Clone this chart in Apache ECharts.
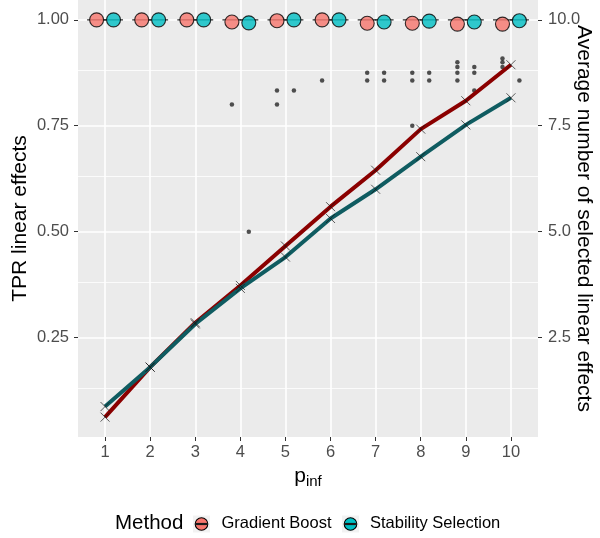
<!DOCTYPE html>
<html>
<head>
<meta charset="utf-8">
<script src="https://cdn.jsdelivr.net/npm/echarts@6/dist/echarts.min.js"></script>
<style>html,body{margin:0;padding:0;background:#fff}#c{width:600px;height:538px}</style>
</head>
<body>
<div id="c"></div>
<script>
// ---- data ----
const pinf = [1, 2, 3, 4, 5, 6, 7, 8, 9, 10];
// mean TPR (circles)
const tprGB = [1.0, 1.0, 1.0, 0.995, 0.998, 1.0, 0.992, 0.992, 0.99, 0.99];
const tprSS = [1.0, 1.0, 1.0, 0.993, 1.0, 1.0, 0.995, 0.997, 0.995, 0.998];
// boxplot median (collapsed boxes)
const medGB = [1, 1, 1, 1, 1, 1, 1, 1, 1, 1];
const medSS = [1, 1, 1, 1, 1, 1, 1, 1, 1, 1];
// boxplot outliers [p_inf, TPR]
const outGB = [[4, 0.8], [5, 0.833], [5, 0.8], [6, 0.857], [7, 0.875], [7, 0.857],
  [8, 0.875], [8, 0.857], [8, 0.75], [9, 0.9], [9, 0.889], [9, 0.875], [9, 0.857],
  [10, 0.909], [10, 0.9], [10, 0.889]];
const outSS = [[4, 0.5], [5, 0.833], [7, 0.875], [7, 0.857], [8, 0.875], [8, 0.857],
  [9, 0.889], [9, 0.875], [9, 0.833], [10, 0.857]];
// average number of selected linear effects (right axis)
const avgGB = [0.62, 1.80, 2.85, 3.73, 4.66, 5.59, 6.45, 7.42, 8.09, 8.94];
const avgSS = [0.87, 1.80, 2.82, 3.66, 4.40, 5.31, 6.00, 6.77, 7.52, 8.16];
// tick labels
const leftTicks = [0.25, 0.5, 0.75, 1.0];
const leftMinor = [0.125, 0.375, 0.625, 0.875];
const rightTicks = [2.5, 5.0, 7.5, 10.0];
const methods = ['Gradient Boost', 'Stability Selection'];

const FONT = '"Liberation Sans", Arial, Helvetica, sans-serif';
const dodge = 0.1875;
const cRed = '#F8766D', cTeal = '#00BFC4';
const lRed = '#8B0000', lTeal = '#0F5C61';

const chart = echarts.init(document.getElementById('c'), null, {renderer: 'canvas'});

const xSymbol = 'path://M0,0L10,10M10,0L0,10';

const option = {
  animation: false,
  textStyle: {fontFamily: FONT},
  grid: {left: 78, top: 0, width: 460, height: 437, show: true, z: 0,
    backgroundColor: '#EBEBEB', borderWidth: 0, containLabel: false, outerBoundsMode: 'none'},
  xAxis: {
    type: 'value', min: 0.4, max: 10.6,
    name: '{p|p}{s|inf}', nameLocation: 'middle', nameGap: 23,
    nameTextStyle: {rich: {
      p: {fontSize: 21, lineHeight: 20, verticalAlign: 'top', color: '#000', fontFamily: FONT},
      s: {fontSize: 15, lineHeight: 23, verticalAlign: 'bottom', color: '#000', fontFamily: FONT}
    }},
    axisLine: {show: false},
    axisTick: {show: true, length: 4, lineStyle: {color: '#333', width: 1}, customValues: pinf},
    axisLabel: {customValues: pinf, color: '#4D4D4D', fontSize: 16.5, margin: 7, fontFamily: FONT},
    splitLine: {show: false}
  },
  yAxis: [{
    type: 'value', min: 0.0151, max: 1.0469, position: 'left',
    name: 'TPR linear effects', nameLocation: 'middle', nameRotate: 90, nameGap: 47,
    nameMoveOverlap: false,
    nameTextStyle: {fontSize: 21, color: '#000', fontFamily: FONT},
    axisLine: {show: false},
    axisTick: {show: true, length: 4, lineStyle: {color: '#333', width: 1}, customValues: leftTicks},
    axisLabel: {customValues: leftTicks, color: '#4D4D4D', fontSize: 16.5, margin: 9,
      fontFamily: FONT, formatter: v => v.toFixed(2)},
    splitLine: {show: false}
  }, {
    type: 'value', min: 0.151, max: 10.469, position: 'right',
    name: 'Average number of selected linear effects', nameLocation: 'middle',
    nameRotate: -90, nameGap: 35, nameMoveOverlap: false,
    nameTextStyle: {fontSize: 21, color: '#000', fontFamily: FONT},
    axisLine: {show: false},
    axisTick: {show: true, length: 4, lineStyle: {color: '#333', width: 1}, customValues: rightTicks},
    axisLabel: {customValues: rightTicks, color: '#4D4D4D', fontSize: 16.5, margin: 10,
      fontFamily: FONT, formatter: v => v.toFixed(1)},
    splitLine: {show: false}
  }],
  series: [
    // grid lines
    {
      type: 'line', data: [], silent: true, z: 1,
      markLine: {
        z: 1, silent: true, symbol: ['none', 'none'], label: {show: false}, animation: false,
        data: [
          ...leftMinor.map(v => ({yAxis: v, lineStyle: {color: '#fff', width: 0.8, type: 'solid'}})),
          ...leftTicks.map(v => ({yAxis: v, lineStyle: {color: '#fff', width: 1.6, type: 'solid'}})),
          ...pinf.map(v => ({xAxis: v, lineStyle: {color: '#fff', width: 1.6, type: 'solid'}}))
        ]
      }
    },
    // collapsed boxes (median line)
    {
      type: 'scatter', z: 2, symbol: 'rect', symbolSize: [19, 1.4],
      itemStyle: {color: '#1a1a1a'}, silent: true,
      data: pinf.map((p, i) => [p - dodge, medGB[i]])
    },
    {
      type: 'scatter', z: 2, symbol: 'rect', symbolSize: [19, 1.4],
      itemStyle: {color: '#1a1a1a'}, silent: true,
      data: pinf.map((p, i) => [p + dodge, medSS[i]])
    },
    // outliers
    {
      type: 'scatter', z: 3, symbol: 'circle', symbolSize: 4.5,
      itemStyle: {color: '#262626'}, silent: true,
      data: outGB.map(d => [d[0] - dodge, d[1]])
    },
    {
      type: 'scatter', z: 3, symbol: 'circle', symbolSize: 4.5,
      itemStyle: {color: '#262626'}, silent: true,
      data: outSS.map(d => [d[0] + dodge, d[1]])
    },
    // mean circles
    {
      name: methods[0], type: 'scatter', z: 4, symbol: 'circle', symbolSize: 14,
      itemStyle: {color: cRed, borderColor: '#000', borderWidth: 1.1},
      data: pinf.map((p, i) => [p - dodge, tprGB[i]])
    },
    {
      name: methods[1], type: 'scatter', z: 4, symbol: 'circle', symbolSize: 14,
      itemStyle: {color: cTeal, borderColor: '#000', borderWidth: 1.1},
      data: pinf.map((p, i) => [p + dodge, tprSS[i]])
    },
    // average number lines
    {
      type: 'line', yAxisIndex: 1, z: 5, showSymbol: true, symbol: xSymbol, symbolSize: 9,
      lineStyle: {color: lRed, width: 4},
      itemStyle: {color: 'rgba(0,0,0,0)', borderColor: 'rgba(20,20,20,0.75)', borderWidth: 0.9},
      data: pinf.map((p, i) => [p, avgGB[i]])
    },
    {
      type: 'line', yAxisIndex: 1, z: 5, showSymbol: true, symbol: xSymbol, symbolSize: 9,
      lineStyle: {color: lTeal, width: 4},
      itemStyle: {color: 'rgba(0,0,0,0)', borderColor: 'rgba(20,20,20,0.75)', borderWidth: 0.9},
      data: pinf.map((p, i) => [p, avgSS[i]])
    }
  ],
  graphic: [
    {type: 'text', left: 115, top: 513, style: {text: 'Method', fill: '#000', font: '20.5px ' + FONT}},
    {type: 'rect', shape: {x: 193, y: 515.5, width: 17, height: 17}, style: {fill: '#F2F2F2'}},
    {type: 'circle', shape: {cx: 201.5, cy: 524, r: 6.3}, style: {fill: cRed, stroke: '#000', lineWidth: 1.1}},
    {type: 'line', shape: {x1: 195.5, y1: 524, x2: 207.5, y2: 524}, style: {stroke: '#1a1a1a', lineWidth: 2.2}},
    {type: 'text', left: 221.5, top: 515, style: {text: methods[0], fill: '#000', font: '16.5px ' + FONT}},
    {type: 'rect', shape: {x: 342, y: 515.5, width: 17, height: 17}, style: {fill: '#F2F2F2'}},
    {type: 'circle', shape: {cx: 350.5, cy: 524, r: 6.3}, style: {fill: cTeal, stroke: '#000', lineWidth: 1.1}},
    {type: 'line', shape: {x1: 344.5, y1: 524, x2: 356.5, y2: 524}, style: {stroke: '#1a1a1a', lineWidth: 2.2}},
    {type: 'text', left: 370, top: 515, style: {text: methods[1], fill: '#000', font: '16.5px ' + FONT}}
  ]
};
chart.setOption(option);
</script>
</body>
</html>
